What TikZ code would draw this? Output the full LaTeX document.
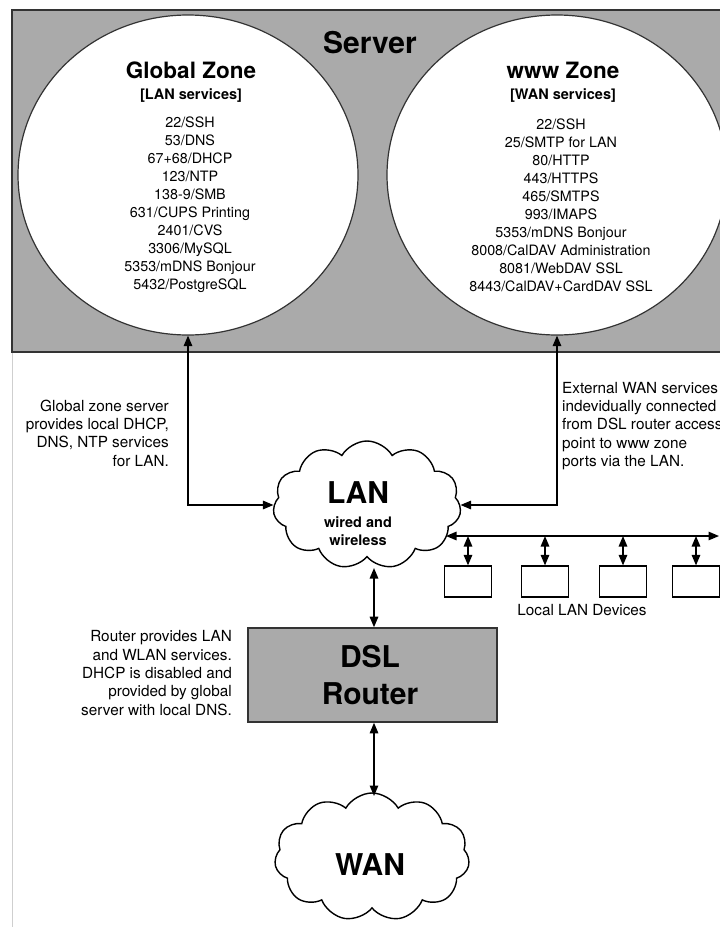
\documentclass[tikz,border=0pt]{standalone}
\usepackage{fontspec}
\setmainfont{TeX Gyre Heros}
\usetikzlibrary{shapes.geometric,shapes.symbols,arrows.meta}

\definecolor{boxgray}{HTML}{AAAAAA}
\definecolor{edgegray}{HTML}{333333}
\definecolor{pagegray}{HTML}{CFCFCF}

\begin{document}
\begin{tikzpicture}[x=1pt,y=-1pt,
  head/.tip={Triangle[length=10.5pt,width=8.5pt]},
  link/.style={line width=1.4pt, head-head},
  serverbox/.style={rectangle, fill=boxgray, draw=edgegray, line width=2.4pt,
    minimum width=740pt, minimum height=342pt, inner sep=0pt},
  zone/.style={ellipse, fill=white, draw=edgegray, line width=1.2pt,
    minimum width=340pt, minimum height=320pt, inner sep=0pt},
  netcloud/.style={cloud, cloud puffs=11, cloud puff arc=120, aspect=1.5,
    fill=white, draw=black, line width=1.4pt, inner sep=0pt,
    minimum width=188pt, minimum height=128pt},
  routerbox/.style={rectangle, fill=boxgray, draw=edgegray, line width=1.6pt,
    minimum width=249pt, minimum height=94pt, inner sep=0pt},
  device/.style={rectangle, draw=black, line width=1.2pt, fill=white,
    minimum width=47pt, minimum height=31pt, inner sep=0pt},
  huge/.style={font=\fontsize{30}{37}\selectfont\bfseries, inner sep=0pt, align=center},
  zonetitle/.style={font=\fontsize{22.5}{26}\selectfont\bfseries, inner sep=0pt},
  subtitle/.style={font=\fontsize{14.5}{18}\selectfont\bfseries, inner sep=0pt, align=center},
  portlist/.style={font=\fontsize{14.3}{18}\selectfont, inner sep=0pt, align=center},
  note/.style={font=\fontsize{15.3}{18.3}\selectfont, inner sep=0pt},
]
\useasboundingbox (0,0) rectangle (720,927);
\clip (0,0) rectangle (720,927);
\fill[white] (0,0) rectangle (720,927);

% thin page edge below the server block
\draw[pagegray, line width=0.8pt] (12,352) -- (12,927);

% server block with its two zones
\node[serverbox] (server) at (382,181) {};
\node[huge] (servertitle) at (370,43) {Server};

\node[zone] (gz) at (188,175) {};
\node[zone] (wz) at (557,175) {};

\node[zonetitle] (gztitle) at (191,70) {Global Zone};
\node[subtitle] (gzsub) at (191,96) {[LAN services]};
\node[portlist] (gzports) at (190,205) {22/SSH\\53/DNS\\67+68/DHCP\\123/NTP\\138-9/SMB\\631/CUPS Printing\\2401/CVS\\3306/MySQL\\5353/mDNS Bonjour\\5432/PostgreSQL};

\node[zonetitle] (wztitle) at (563,70) {www Zone};
\node[subtitle] (wzsub) at (563,96) {[WAN services]};
\node[portlist] (wzports) at (561,205) {22/SSH\\25/SMTP for LAN\\80/HTTP\\443/HTTPS\\465/SMTPS\\993/IMAPS\\5353/mDNS Bonjour\\8008/CalDAV Administration\\8081/WebDAV SSL\\8443/CalDAV+CardDAV SSL};

% LAN cloud
\node[netcloud] (lan) at (367,505) {};
\node[huge] (lantitle) at (358,493) {LAN};
\node[subtitle] (lansub) at (358,531) {wired and\\wireless};

% DSL router
\node[routerbox] (router) at (372.5,675) {};
\node[huge] (routertitle) at (370,675) {DSL\\Router};

% WAN cloud
\node[netcloud, minimum width=195pt] (wan) at (372,857) {};
\node[huge] (wantitle) at (370,865) {WAN};

% local devices on the LAN bus
\node[device] (dev1) at (468,581.5) {};
\node[device] (dev2) at (545,581.5) {};
\node[device] (dev3) at (623,581.5) {};
\node[device] (dev4) at (696,581.5) {};
\node[note] (devlabel) at (582,610) {Local LAN Devices};

% notes
\node[note, anchor=east, align=right] (gznote) at (169,433) {Global zone server\\provides local DHCP,\\DNS, NTP services\\for LAN.};
\node[note, anchor=west, align=left] (wznote) at (562,426) {External WAN services\\indevidually connected\\from DSL router access\\point to www zone\\ports via the LAN.};
\node[note, anchor=east, align=right] (rnote) at (232,673) {Router provides LAN\\and WLAN services.\\DHCP is disabled and\\provided by global\\server with local DNS.};

% connectors
\coordinate (lanfoot) at (374,568);
\coordinate (wantop) at (374,796);
\coordinate (busL) at (446,536);
\coordinate (busR) at (719,536);

\draw[link] (gz.south) |- (lan.west);
\draw[link] (wz.south) |- (lan.east);
\draw[link] (lanfoot) -- (router.north -| lanfoot);
\draw[link] (router.south -| wantop) -- (wantop);
\draw[link] (busL) -- (busR);
\foreach \d in {dev1,dev2,dev3,dev4}
  \draw[link] (\d.north |- busL) -- (\d.north);
\end{tikzpicture}
\end{document}
